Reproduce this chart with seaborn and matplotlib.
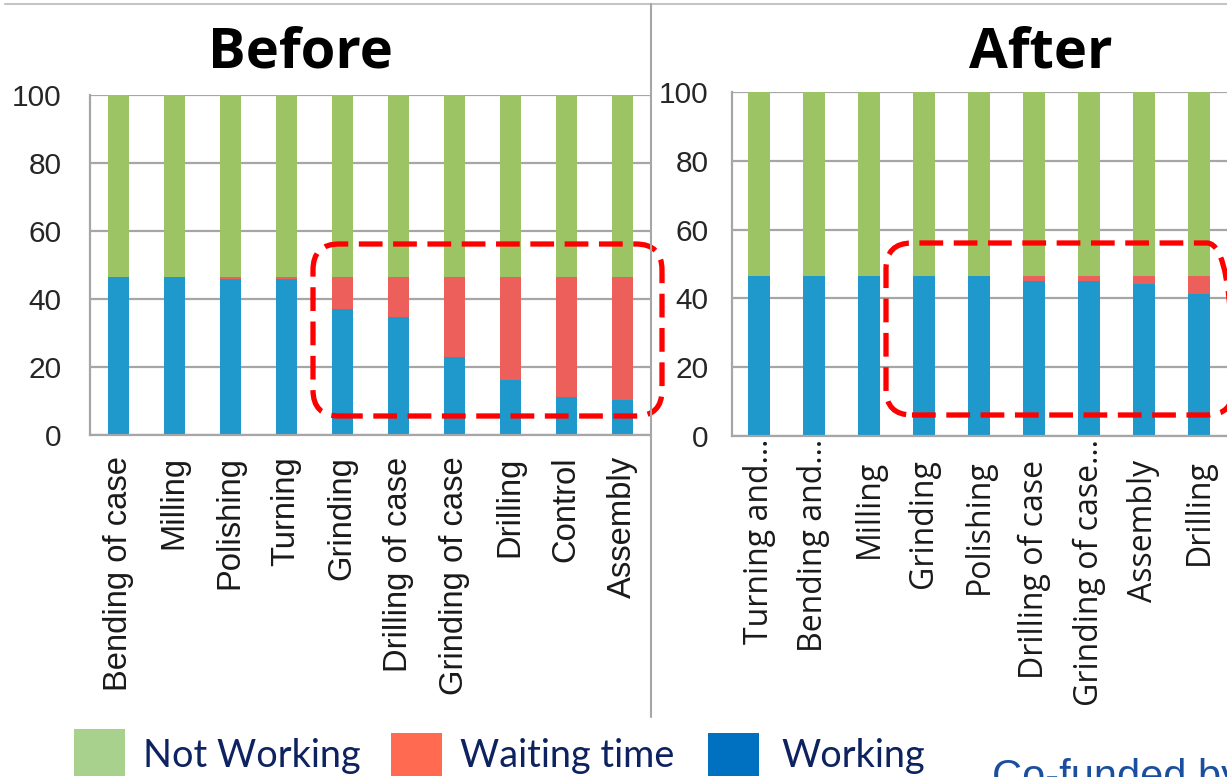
import numpy as np
import pandas as pd
import seaborn as sns
import matplotlib.pyplot as plt
from matplotlib.patches import FancyBboxPatch, Rectangle
from matplotlib.lines import Line2D
from matplotlib.transforms import ScaledTranslation

# ---- data (% of time per process step) ----
steps_before = ["Bending of case", "Milling", "Polishing", "Turning", "Grinding",
                "Drilling of case", "Grinding of case", "Drilling", "Control", "Assembly"]
working_before = [46.6, 46.6, 45.9, 45.9, 37.1, 34.8, 23.0, 16.3, 11.2, 10.5]
waiting_before = [0.0, 0.0, 0.7, 0.7, 9.5, 11.8, 23.6, 30.3, 35.4, 36.1]
not_working_before = [53.4, 53.4, 53.4, 53.4, 53.4, 53.4, 53.4, 53.4, 53.4, 53.4]

steps_after = ["Turning and\u2026", "Bending and\u2026", "Milling", "Grinding", "Polishing",
               "Drilling of case", "Grinding of case\u2026", "Assembly", "Drilling"]
working_after = [46.4, 46.4, 46.4, 46.4, 46.4, 45.0, 45.0, 44.3, 41.3]
waiting_after = [0.0, 0.0, 0.0, 0.0, 0.0, 1.4, 1.4, 2.1, 5.1]
not_working_after = [53.6, 53.6, 53.6, 53.6, 53.6, 53.6, 53.6, 53.6, 53.6]

y_ticks = [0, 20, 40, 60, 80, 100]
legend_labels = ["Not Working", "Waiting time", "Working"]

GREEN, RED, BLUE = "#9DC464", "#EC5F5A", "#1F98CC"
LEG_GREEN, LEG_RED, LEG_BLUE = "#A9D18E", "#FF6A50", "#0070C0"
GRID = "#A6A6A6"
NAVY = "#0D2260"

sns.set_theme(style="white")
plt.rcParams['font.family'] = ['Liberation Sans', 'DejaVu Sans']

W, H = 1227, 777
fig = plt.figure(figsize=(W / 100, H / 100), dpi=100)


def add_axes_px(x0, y_top, x1, y_bot):
    return fig.add_axes([x0 / W, 1 - y_bot / H, (x1 - x0) / W, (y_bot - y_top) / H])


def stacked_panel(ax, steps, working, waiting, not_working, bar_width,
                  xfont, xsize, xpad, ytick_len, ypad):
    df = pd.DataFrame({"step": steps, "working": working,
                       "waiting": waiting, "not_working": not_working})
    df["top_waiting"] = df["working"] + df["waiting"]
    df["top_total"] = df["top_waiting"] + df["not_working"]
    for col, colr in [("top_total", GREEN), ("top_waiting", RED), ("working", BLUE)]:
        sns.barplot(data=df, x="step", y=col, color=colr, width=bar_width,
                    saturation=1, errorbar=None, linewidth=0, ax=ax)
    n = len(steps)
    ax.set_xlim(-0.5, n - 0.5)
    ax.set_ylim(0, 100)
    ax.set_xlabel("")
    ax.set_ylabel("")
    ax.set_yticks(y_ticks)
    ax.yaxis.grid(True, color=GRID, lw=1.6)
    ax.xaxis.grid(False)
    ax.set_axisbelow(True)
    for s in ["top", "right"]:
        ax.spines[s].set_visible(False)
    for s in ["left", "bottom"]:
        ax.spines[s].set_color(GRID)
        ax.spines[s].set_linewidth(1.6)
    ax.set_xticks(np.arange(-0.5, n), minor=True)
    ax.tick_params(axis="x", which="minor", length=10, width=1.6, color=GRID)
    ax.tick_params(axis="x", which="major", length=0, pad=xpad)
    ax.tick_params(axis="y", length=ytick_len, width=1.6, color=GRID, pad=ypad,
                   labelsize=21.5, labelcolor="#262626")
    ax.set_xticks(range(n))
    ax.set_xticklabels(steps, rotation=90, ha="center", va="top",
                       fontsize=xsize, family=xfont, color="#1A1A1A")


ax_before = add_axes_px(90, 94.5, 650, 435.5)
stacked_panel(ax_before, steps_before, working_before, waiting_before, not_working_before,
              0.375, ["Liberation Sans", "DejaVu Sans"], 23.6, 15, 9.5, 11)

ax_after = add_axes_px(731.5, 92, 1226.5, 436)
stacked_panel(ax_after, steps_after, working_after, waiting_after, not_working_after,
              0.4, ["Open Sans", "DejaVu Sans"], 23, 17, 7, 9.5)

# truncated names: let the ellipsis run up into the tick area
for lbl in ax_after.get_xticklabels():
    if lbl.get_text().endswith("\u2026"):
        lbl.set_transform(lbl.get_transform() + ScaledTranslation(0, 0.21, fig.dpi_scale_trans))

# panel titles
fig.text(300 / W, 1 - 68 / H, "Before", ha="center", va="baseline",
         fontsize=40.5, fontweight="bold", family=["Open Sans", "DejaVu Sans"], color="black")
fig.text(1041 / W, 1 - 68 / H, "After", ha="center", va="baseline",
         fontsize=40.5, fontweight="bold", family=["Open Sans", "DejaVu Sans"], color="black")

# frame lines: top rule and divider between the panels
fig.add_artist(Line2D([5 / W, 1], [1 - 4 / H, 1 - 4 / H], transform=fig.transFigure,
                      color="#C4C4C4", lw=1.5))
fig.add_artist(Line2D([651 / W, 651 / W], [1 - 4 / H, 1 - 717 / H], transform=fig.transFigure,
                      color="#A6A6A6", lw=1.5))

# highlighted regions (pixel -> inch coordinates)
def dashed_box(x0, y0, x1, y1):
    box = FancyBboxPatch((x0 / 100, (H - y1) / 100), (x1 - x0) / 100, (y1 - y0) / 100,
                         boxstyle="round,pad=0,rounding_size=0.26",
                         transform=fig.dpi_scale_trans, fill=False,
                         edgecolor="#FF0000", lw=3.8, linestyle=(0, (4.5, 2.0)),
                         clip_on=False)
    fig.add_artist(box)

dashed_box(313, 244, 662, 416)
dashed_box(886, 243, 1233, 415)

# legend
leg_items = [
    (legend_labels[0], LEG_GREEN, 74, 729, 143),
    (legend_labels[1], LEG_RED, 391, 733, 460),
    (legend_labels[2], LEG_BLUE, 708, 733, 781),
]
for label, colr, sx, sy, tx in leg_items:
    fig.add_artist(Rectangle((sx / W, 1 - 776 / H), 51 / W, (776 - sy) / H,
                             transform=fig.transFigure, facecolor=colr, edgecolor="none"))
    fig.text(tx / W, 1 - 767 / H, label, ha="left", va="baseline",
             fontsize=27.3, family=["Lato", "DejaVu Sans"], color=NAVY)

fig.text(992 / W, 1 - 758 / H, "Co-funded by", ha="left", va="top",
         fontsize=30, family=["Liberation Sans", "DejaVu Sans"], color="#1A4E9E")

fig.savefig("out.png", dpi=100)
